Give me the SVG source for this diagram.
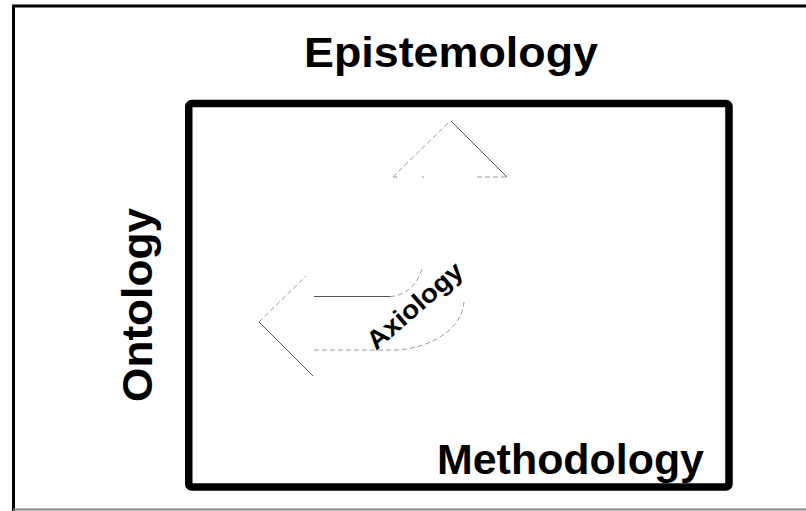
<svg xmlns="http://www.w3.org/2000/svg" width="806" height="511" viewBox="0 0 806 511">
<style>
.lbl{font-family:"Liberation Sans",Arial,Helvetica,sans-serif;font-weight:bold;fill:#000}
.big{font-size:42px}
.faint{fill:none;stroke:#9a9a9a;stroke-width:1;stroke-dasharray:5 3}
.solid{fill:none;stroke:#555;stroke-width:1}
</style>
<rect width="806" height="511" fill="#fff"/>
<g id="frame">
<path d="M13.5,511 V6 H806" fill="none" stroke="#000" stroke-width="3"/>
<line x1="13" y1="509.5" x2="806" y2="509.5" stroke="#888" stroke-width="2"/>
</g>
<g id="ontology-box">
<rect x="188.75" y="103.5" width="540.25" height="383.5" rx="3" fill="none" stroke="#000" stroke-width="7.5"/>
</g>
<g id="epistemology"><text class="lbl big" x="304" y="67" textLength="294" lengthAdjust="spacingAndGlyphs">Epistemology</text></g>
<g id="methodology"><text class="lbl big" x="437" y="474" textLength="267" lengthAdjust="spacingAndGlyphs">Methodology</text></g>
<g id="ontology"><text class="lbl big" transform="translate(152,402) rotate(-90)" x="0" y="0" textLength="194" lengthAdjust="spacingAndGlyphs">Ontology</text></g>
<g id="connectors">
<g id="axiology-arrow">
<line class="faint" x1="393" y1="177" x2="450" y2="121"/>
<line class="solid" x1="451" y1="121" x2="507" y2="177"/>
<line class="faint" x1="393" y1="177" x2="397" y2="177"/>
<line class="faint" x1="422" y1="177" x2="424" y2="177"/>
<line class="faint" x1="477" y1="177" x2="507" y2="177"/>
<line class="faint" x1="259" y1="322" x2="306" y2="276"/>
<line class="solid" x1="259" y1="322" x2="313" y2="376"/>
<path class="solid" d="M314,296.5 H390" stroke="#666"/>
<path class="faint" d="M390,296.5 C405,296 418,285 422,268"/>
<path class="faint" d="M314,350 H397 C430,348 462,330 464,302"/>
</g>
</g>
<g id="axiology"><text class="lbl" font-size="26" transform="translate(376,351) rotate(-41)" textLength="118" lengthAdjust="spacingAndGlyphs">Axiology</text></g>
</svg>
